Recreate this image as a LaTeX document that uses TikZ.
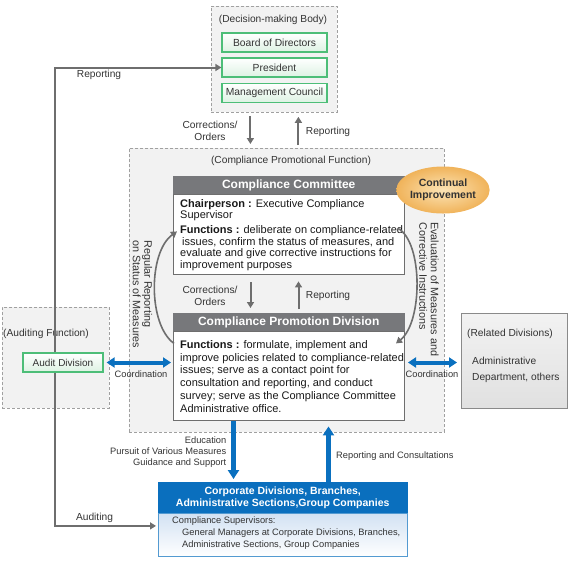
\documentclass[tikz,border=0pt]{standalone}
\usepackage{fontspec}
\setmainfont{Liberation Sans}
\usetikzlibrary{arrows.meta,shapes.geometric,positioning}
\definecolor{framegray}{HTML}{A0A0A0}
\definecolor{panelgray}{HTML}{F2F2F2}
\definecolor{textgray}{HTML}{333333}
\definecolor{headgray}{HTML}{77787B}
\definecolor{linegray}{HTML}{6E6E6E}
\definecolor{boxgreen}{HTML}{4DBE78}
\definecolor{palegreen}{HTML}{DDF2E3}
\definecolor{corpblue}{HTML}{0A6FBE}
\definecolor{arrowblue}{HTML}{0A70BF}
\definecolor{paleblue}{HTML}{D3E2F3}
\definecolor{orangeedge}{HTML}{F0B35A}
\definecolor{orangecore}{HTML}{FCE4B6}
\definecolor{relgray}{HTML}{8A8A8A}
\begin{document}
\begin{tikzpicture}[x=1pt,y=-1pt,
panel/.style={draw=framegray,dash pattern=on 3pt off 2pt,line width=0.8pt,fill=panelgray,inner sep=0pt,anchor=north west},
greenbox/.style={draw=boxgreen,line width=1.2pt,top color=white,bottom color=palegreen,minimum width=105pt,minimum height=19pt,inner sep=0pt,text=textgray,font=\fontsize{10.3}{12}\selectfont},
lbl/.style={text=textgray,font=\fontsize{10.2}{12}\selectfont,inner sep=0pt,align=center},
smalllbl/.style={text=textgray,font=\fontsize{9.3}{11}\selectfont,inner sep=0pt},
sidelbl/.style={text=textgray,font=\fontsize{10.8}{11.5}\selectfont,inner sep=0pt,rotate=-90,anchor=west,align=left},
grayarrow/.style={draw=linegray,line width=2pt,-{Triangle[length=6pt,width=7pt]}},
bluearrow/.style={draw=arrowblue,line width=4.5pt,-{Triangle[length=9pt,width=11pt]}},
bluedouble/.style={draw=arrowblue,line width=4pt,{Triangle[length=8pt,width=10pt]}-{Triangle[length=8pt,width=10pt]}},
headbox/.style={fill=headgray,draw=headgray,text=white,font=\bfseries\fontsize{12}{14}\selectfont,minimum width=231pt,minimum height=18pt,inner sep=0pt,anchor=north west},
bodybox/.style={draw=linegray,line width=1pt,fill=white,anchor=north west,minimum width=231pt,inner sep=0pt},
bodytext/.style={text=black!90,inner sep=0pt,align=left,anchor=west}]
\useasboundingbox (0,0) rectangle (570,566);
\node[panel,minimum width=126pt,minimum height=106pt] (dmpanel) at (211,6) {};
\node[lbl] (dmtitle) at (273,20) {(Decision-making Body)};
\node[greenbox] (board) at (274.5,42.5) {Board of Directors};
\node[greenbox] (president) at (274.5,67.5) {President};
\node[greenbox] (council) at (274.5,93) {Management Council};
\node[panel,minimum width=315pt,minimum height=284pt] (cpfpanel) at (129,148) {};
\node[lbl] (cpftitle) at (291,161) {(Compliance Promotional Function)};
\node[panel,minimum width=107pt,minimum height=101pt] (afpanel) at (2,307) {};
\node[lbl,anchor=west] (aftitle) at (3,334) {(Auditing Function)};
\node[greenbox,minimum width=80pt,font=\fontsize{10}{12}\selectfont] (audit) at (63,362.5) {Audit Division};
\node[draw=relgray,line width=1pt,top color=panelgray,bottom color=black!12,minimum width=106pt,minimum height=95pt,inner sep=0pt,anchor=north west] (related) at (461,313) {};
\node[lbl,anchor=west] (reltitle) at (467,334) {(Related Divisions)};
\node[lbl,anchor=west,align=left,font=\fontsize{10.2}{16}\selectfont] (reldept) at (472,370) {Administrative\\Department, others};
\node[headbox] (cchead) at (173,176) {Compliance Committee};
\node[bodybox,minimum height=80pt] (ccbody) at (cchead.south west) {};
\node[bodytext,font=\fontsize{11}{11.7}\selectfont] (cctext) at ([xshift=7pt]ccbody.west) {\textbf{Chairperson :} Executive Compliance\\Supervisor\\[3pt]\textbf{Functions :} deliberate on compliance-related\\\hspace*{2pt}issues, confirm the status of measures, and\\evaluate and give corrective instructions for\\improvement purposes};
\node[headbox] (cphead) at (173,313) {Compliance Promotion Division};
\node[bodybox,minimum height=89pt] (cpbody) at (cphead.south west) {};
\node[bodytext,font=\fontsize{11}{12.8}\selectfont] (cptext) at ([xshift=7pt]cpbody.west) {\textbf{Functions :} formulate, implement and\\improve policies related to compliance-related\\issues; serve as a contact point for\\consultation and reporting, and conduct\\survey; serve as the Compliance Committee\\Administrative office.};
\node[ellipse,inner sep=0pt,minimum width=72pt,minimum height=47pt,inner color=orangecore,outer color=orangeedge,align=center,text=textgray,font=\bfseries\fontsize{10.5}{11.5}\selectfont] (contimp) at (443,190) {Continual\\Improvement};
\node[anchor=north west,fill=corpblue,draw=corpblue,minimum width=249pt,minimum height=31pt,inner sep=0pt,text=white,align=center,font=\bfseries\fontsize{10.5}{12.5}\selectfont] (corphead) at (158,482) {Corporate Divisions, Branches,\\Administrative Sections,Group Companies};
\node[anchor=north west,draw=corpblue!70,line width=1pt,top color=paleblue,bottom color=white,minimum width=249pt,minimum height=43pt,inner sep=0pt] (corpbody) at (corphead.south west) {};
\node[smalllbl,anchor=north west,align=left,font=\fontsize{9.3}{12}\selectfont] (supers) at (172,517) {Compliance Supervisors:\\\hspace*{10pt}General Managers at Corporate Divisions, Branches,\\\hspace*{10pt}Administrative Sections, Group Companies};
\draw[grayarrow] ([xshift=-8pt]audit.north) |- (president.west);
\draw[grayarrow,shorten >=2pt] ([xshift=-8pt]audit.south) |- ([yshift=9.5pt]corpbody.west);
\node[lbl] (reptop) at (99,75) {Reporting};
\node[lbl] (auditing) at (94.5,518) {Auditing};
\draw[grayarrow,shorten <=3pt,shorten >=4pt] ([xshift=-24pt]dmpanel.south) -- ([xshift=-24pt]dmpanel.south |- cpfpanel.north);
\draw[grayarrow,shorten <=3pt,shorten >=4pt] ([xshift=24pt]dmpanel.south |- cpfpanel.north) -- ([xshift=24pt]dmpanel.south);
\node[lbl] (corrtop) at (210,130.5) {Corrections/\\Orders};
\node[lbl] (repmid) at (328,132) {Reporting};
\draw[grayarrow,shorten <=7pt,shorten >=5pt] ([xshift=-38.5pt]ccbody.south) -- ([xshift=-38.5pt]ccbody.south |- cphead.north);
\draw[grayarrow,shorten <=4pt,shorten >=6pt] ([xshift=9.5pt]ccbody.south |- cphead.north) -- ([xshift=9.5pt]ccbody.south);
\node[lbl] (corrlow) at (210,295.5) {Corrections/\\Orders};
\node[lbl] (replow) at (328,296) {Reporting};
\draw[grayarrow,line width=1.6pt] ([shift={(1,12)}]cpbody.north west) .. controls (148,325) and (148,252) .. ([shift={(4,37)}]ccbody.north west);
\draw[grayarrow,line width=1.6pt] ([shift={(225,34)}]ccbody.north west) .. controls (423,242) and (423,322) .. ([shift={(223,12)}]cpbody.north west);
\node[sidelbl] (regrep) at (142.5,240) {Regular Reporting\\on Status of Measures};
\node[sidelbl] (evalinst) at (429,222) {Evaluation of Measures and\\Corrective Instructions};
\draw[bluedouble,shorten <=3pt,shorten >=2pt] (audit.east) -- (audit.east -| cpbody.west);
\draw[bluedouble,shorten <=3pt,shorten >=4pt] (audit.east -| cpbody.east) -- (audit.east -| related.west);
\node[smalllbl] (coordleft) at (141,374) {Coordination};
\node[smalllbl] (coordright) at (432,374) {Coordination};
\draw[bluearrow,shorten >=3pt] ([xshift=-55.5pt]cpbody.south) -- ([xshift=-55.5pt]cpbody.south |- corphead.north);
\draw[bluearrow,shorten >=5pt] ([xshift=39.5pt]cpbody.south |- corphead.north) -- ([xshift=39.5pt]cpbody.south);
\node[smalllbl,align=right,anchor=east] (measures) at (226.5,452.5) {Education\\Pursuit of Various Measures\hspace*{3pt}\\Guidance and Support};
\node[smalllbl,anchor=west] (repcons) at (336,456) {Reporting and Consultations};
\end{tikzpicture}
\end{document}
